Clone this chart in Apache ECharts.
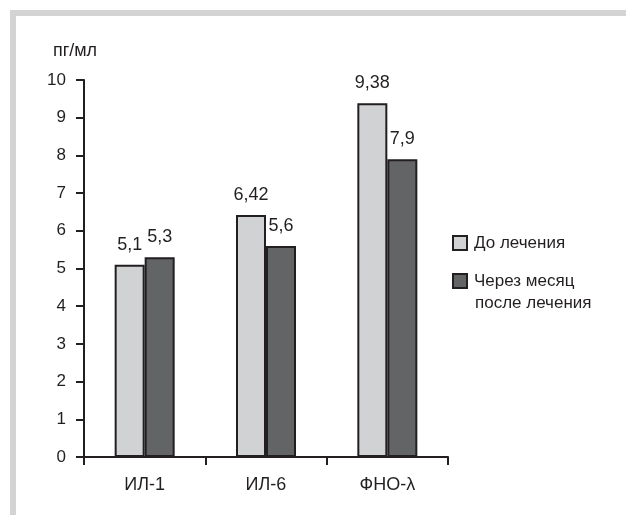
<!DOCTYPE html>
<html>
<head>
<meta charset="utf-8">
<script src="https://cdn.jsdelivr.net/npm/echarts@6/dist/echarts.min.js"></script>
<style>
  html, body { margin: 0; padding: 0; background: #fff; }
  #chart { width: 626px; height: 515px; }
</style>
</head>
<body>
<div id="chart"></div>
<script>
// Cytokine levels before and one month after treatment
const categories = ['ИЛ-1', 'ИЛ-6', 'ФНО-λ'];
const seriesNames = ['До лечения', 'Через месяц\nпосле лечения'];
const beforeValues = [5.1, 6.42, 9.38];
const afterValues = [5.3, 5.6, 7.9];
const yTicks = [0, 1, 2, 3, 4, 5, 6, 7, 8, 9, 10];

const FONT = '"Liberation Sans", Arial, sans-serif';
const INK = '#231f20';
const fmt = v => String(v.value).replace('.', ',');

// legend shows the first line next to the swatch, the rest goes underneath
const firstLine = name => name.split('\n')[0];
const restLines = name => name.split('\n').slice(1).join('\n');

const chart = echarts.init(document.getElementById('chart'), null, { renderer: 'canvas' });

chart.setOption({
  animation: false,
  backgroundColor: '#ffffff',
  textStyle: { fontFamily: FONT },
  graphic: [
    { type: 'rect', shape: { x: 10, y: 10, width: 616, height: 6 }, style: { fill: '#d4d4d4' }, z: -1 },
    { type: 'rect', shape: { x: 10, y: 10, width: 6, height: 505 }, style: { fill: '#d4d4d4' }, z: -1 },
    {
      type: 'text', left: 475, top: 295,
      style: { text: restLines(seriesNames[1]), font: '17px ' + FONT, fill: INK }
    }
  ],
  grid: { left: 84, right: 178, top: 80, bottom: 58, containLabel: false },
  legend: {
    orient: 'vertical',
    left: 447,
    top: 228,
    itemWidth: 14,
    itemHeight: 14,
    itemGap: 18,
    icon: 'rect',
    selectedMode: false,
    formatter: firstLine,
    itemStyle: { borderColor: INK, borderWidth: 2 },
    textStyle: { fontFamily: FONT, fontSize: 17, color: INK, lineHeight: 20, padding: [0, 0, 0, 2] },
    data: seriesNames
  },
  xAxis: {
    type: 'category',
    data: categories,
    axisLine: { lineStyle: { color: INK, width: 2 } },
    axisTick: { show: true, length: 8, lineStyle: { color: INK, width: 2 } },
    axisLabel: { fontFamily: FONT, fontSize: 18, color: INK, margin: 19 },
    splitLine: { show: false }
  },
  yAxis: {
    type: 'value',
    min: yTicks[0],
    max: yTicks[yTicks.length - 1],
    interval: 1,
    name: 'пг/мл',
    nameLocation: 'end',
    nameGap: 20,
    nameTextStyle: { fontFamily: FONT, fontSize: 18, color: INK, align: 'center', padding: [0, 18, 0, 0] },
    axisLine: { show: true, lineStyle: { color: INK, width: 2 } },
    axisTick: { show: true, length: 8, lineStyle: { color: INK, width: 2 } },
    axisLabel: { fontFamily: FONT, fontSize: 17, color: INK, margin: 18 },
    splitLine: { show: false }
  },
  series: [
    {
      name: seriesNames[0],
      type: 'bar',
      data: beforeValues,
      barWidth: 30,
      barGap: '0%',
      itemStyle: { color: '#d1d2d4', borderColor: INK, borderWidth: 2 },
      label: { show: true, position: 'top', distance: 11, formatter: fmt, fontFamily: FONT, fontSize: 18, color: INK }
    },
    {
      name: seriesNames[1],
      type: 'bar',
      data: afterValues,
      barWidth: 30,
      barGap: '0%',
      itemStyle: { color: '#636466', borderColor: INK, borderWidth: 2 },
      label: { show: true, position: 'top', distance: 11, formatter: fmt, fontFamily: FONT, fontSize: 18, color: INK }
    }
  ]
});
</script>
</body>
</html>
